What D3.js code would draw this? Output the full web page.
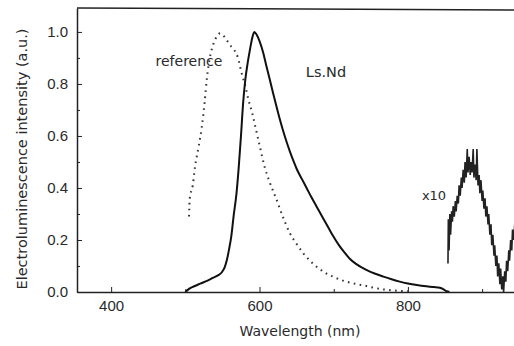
<!DOCTYPE html>
<html>
<head>
<meta charset="utf-8">
<script src="https://cdn.jsdelivr.net/npm/d3@7"></script>
<style>
  body { margin: 0; background: #fff; }
  svg { display: block; font-family: "DejaVu Sans", sans-serif; }
  .tick text { font-size: 15px; fill: #2a2a2a; }
  .domain, .tick line { stroke: #222; }
</style>
</head>
<body>
<figure id="el" style="margin:0"></figure>
<script>
// Ls.Nd electroluminescence (solid), [wavelength nm, intensity]
const lsNd = [
  [500, 0.0], [505, 0.012], [512, 0.022], [520, 0.032], [530, 0.044], [537, 0.054],
  [544, 0.064], [549, 0.075], [553, 0.095], [556, 0.123], [559, 0.165], [562, 0.215],
  [565, 0.29], [569, 0.38], [572, 0.48], [575, 0.6], [578, 0.73], [581, 0.82],
  [584, 0.88], [587, 0.93], [590, 0.975], [593, 1.0], [596, 0.99], [600, 0.965],
  [605, 0.92], [609, 0.872], [614, 0.815], [618, 0.768], [623, 0.712], [627, 0.668],
  [632, 0.618], [637, 0.573], [641, 0.54], [646, 0.502], [650, 0.474], [657, 0.435],
  [664, 0.397], [670, 0.364], [677, 0.328], [684, 0.292], [692, 0.252], [699, 0.216],
  [707, 0.18], [715, 0.15], [722, 0.127], [730, 0.108], [744, 0.085], [756, 0.07],
  [767, 0.059], [778, 0.049], [789, 0.04], [800, 0.033], [812, 0.027], [825, 0.022],
  [835, 0.019], [843, 0.016], [848, 0.01], [852, 0.003], [856, 0.0]
];

// reference emitter (dotted)
const reference = [
  [505, 0.29], [506, 0.36], [510, 0.41], [513, 0.48], [518, 0.56], [522, 0.63],
  [526, 0.73], [529, 0.82], [533, 0.9], [538, 0.955], [543, 0.985], [547, 0.995],
  [553, 0.98], [560, 0.95], [566, 0.93], [571, 0.9], [576, 0.84], [581, 0.79],
  [585, 0.74], [590, 0.69], [594, 0.64], [600, 0.565], [607, 0.48], [614, 0.42],
  [623, 0.355], [630, 0.3], [641, 0.226], [650, 0.185], [659, 0.149], [668, 0.12],
  [677, 0.097], [688, 0.075], [699, 0.059], [710, 0.046], [722, 0.036], [733, 0.029],
  [744, 0.023], [755, 0.016], [767, 0.01], [780, 0.006], [800, 0.003]
];

// NIR part, magnified x10 (noisy)
const nirX10 = [
  [854, 0.11], [854.5, 0.28], [855.5, 0.16], [856.5, 0.3], [857.5, 0.22], [859, 0.31],
  [860, 0.27], [861, 0.33], [862.5, 0.29], [864, 0.35], [865, 0.31], [866.5, 0.37],
  [868, 0.34], [869, 0.41], [870.5, 0.37], [872, 0.44], [873, 0.4], [874.5, 0.47],
  [876, 0.42], [877, 0.5], [878.5, 0.44], [880, 0.55], [881, 0.46], [882.5, 0.52],
  [884, 0.45], [885, 0.5], [886.5, 0.46], [888, 0.55], [889, 0.44], [890.5, 0.49],
  [892, 0.43], [893, 0.55], [894.5, 0.41], [896, 0.45], [897, 0.38], [898.5, 0.43],
  [900, 0.35], [901, 0.39], [902.5, 0.32], [904, 0.36], [905, 0.29], [906.5, 0.33],
  [908, 0.26], [909, 0.3], [910.5, 0.22], [912, 0.26], [913, 0.18], [914.5, 0.22],
  [916, 0.14], [917, 0.18], [918.5, 0.1], [920, 0.14], [921, 0.06], [922.5, 0.11],
  [924, 0.03], [925, 0.09], [926.5, 0.01], [928, 0.06], [929, 0.0], [930.5, 0.08],
  [932, 0.04], [933, 0.12], [934.5, 0.08], [936, 0.16], [937, 0.12], [938.5, 0.2],
  [940, 0.16], [941, 0.24], [942.5, 0.2], [944, 0.26]
];

const xMajor = [400, 600, 800];
const xMinor = [500, 700, 900];
const yMajor = [0, 0.2, 0.4, 0.6, 0.8, 1.0];
const yMinor = [0.1, 0.3, 0.5, 0.7, 0.9];

const width = 514, height = 346;
const margin = { top: 8, right: 0, bottom: 54, left: 77 };

const svg = d3.select("figure#el")
  .append("svg")
  .attr("width", width)
  .attr("height", height);

const x = d3.scaleLinear()
  .domain([354, 943])
  .range([margin.left, width - margin.right]);

const y = d3.scaleLinear()
  .domain([0, 1.092])
  .range([height - margin.bottom, margin.top]);

svg.append("clipPath").attr("id", "plot")
  .append("rect")
  .attr("x", margin.left).attr("y", margin.top)
  .attr("width", width - margin.left).attr("height", height - margin.bottom - margin.top);

// frame top
svg.append("line")
  .attr("x1", margin.left).attr("x2", width)
  .attr("y1", margin.top).attr("y2", margin.top + 2)
  .attr("stroke", "#222").attr("stroke-width", 1.5);

// axes
svg.append("g")
  .attr("transform", "translate(0," + (height - margin.bottom) + ")")
  .call(d3.axisBottom(x).tickValues(xMajor).tickSizeInner(-5).tickSizeOuter(0).tickPadding(8).tickFormat(d3.format("d")))
  .call(g => g.select(".domain").attr("stroke-width", 1.3));

svg.append("g")
  .attr("transform", "translate(0," + (height - margin.bottom) + ")")
  .call(d3.axisBottom(x).tickValues(xMinor).tickSizeInner(-3).tickSizeOuter(0).tickFormat(""))
  .call(g => g.select(".domain").remove());

svg.append("g")
  .attr("transform", "translate(" + margin.left + ",0)")
  .call(d3.axisLeft(y).tickValues(yMajor).tickSizeInner(-5).tickSizeOuter(0).tickPadding(9).tickFormat(d3.format(".1f")))
  .call(g => g.select(".domain").attr("stroke-width", 1.5));

svg.append("g")
  .attr("transform", "translate(" + margin.left + ",0)")
  .call(d3.axisLeft(y).tickValues(yMinor).tickSizeInner(-3).tickSizeOuter(0).tickFormat(""))
  .call(g => g.select(".domain").remove());

// axis titles
svg.append("text")
  .attr("x", 300).attr("y", 336)
  .attr("text-anchor", "middle")
  .attr("font-size", 14).attr("fill", "#2a2a2a")
  .text("Wavelength (nm)");

svg.append("text")
  .attr("transform", "translate(27,159) rotate(-90)")
  .attr("text-anchor", "middle")
  .attr("font-size", 14.5).attr("fill", "#2a2a2a")
  .text("Electroluminescence intensity (a.u.)");

const line = d3.line()
  .x(d => x(d[0]))
  .y(d => y(d[1]));

const plot = svg.append("g").attr("clip-path", "url(#plot)");

plot.append("path")
  .datum(reference)
  .attr("d", line.curve(d3.curveMonotoneX))
  .attr("fill", "none")
  .attr("stroke", "#333")
  .attr("stroke-width", 2)
  .attr("stroke-dasharray", "1.6 4.4");

plot.append("path")
  .datum(lsNd)
  .attr("d", line.curve(d3.curveMonotoneX))
  .attr("fill", "none")
  .attr("stroke", "#111")
  .attr("stroke-width", 2);

plot.append("path")
  .datum(nirX10)
  .attr("d", line.curve(d3.curveLinear))
  .attr("fill", "none")
  .attr("stroke", "#222")
  .attr("stroke-width", 1.6);

// labels
svg.append("text")
  .attr("x", 189).attr("y", 66)
  .attr("text-anchor", "middle")
  .attr("font-size", 14).attr("fill", "#2a2a2a")
  .text("reference");

svg.append("text")
  .attr("x", 326).attr("y", 77)
  .attr("text-anchor", "middle")
  .attr("font-size", 14.5).attr("fill", "#2a2a2a")
  .text("Ls.Nd");

svg.append("text")
  .attr("x", 434).attr("y", 200)
  .attr("text-anchor", "middle")
  .attr("font-size", 13).attr("fill", "#2a2a2a")
  .text("x10");
</script>
</body>
</html>
